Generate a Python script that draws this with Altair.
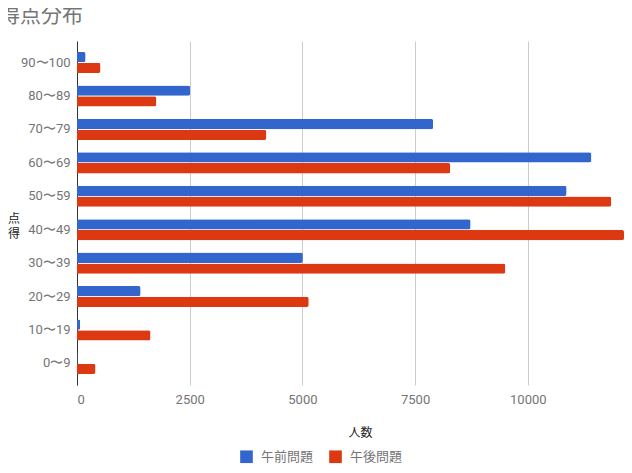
import altair as alt
import pandas as pd

categories = ["90〜100", "80〜89", "70〜79", "60〜69", "50〜59",
              "40〜49", "30〜39", "20〜29", "10〜19", "0〜9"]
series = ["午前問題", "午後問題"]
morning = [190, 2510, 7900, 11410, 10860, 8730, 5010, 1410, 70, 15]
afternoon = [520, 1760, 4200, 8280, 11850, 12500, 9500, 5140, 1630, 410]
x_ticks = [0, 2500, 5000, 7500, 10000]
colors = ["#3366cc", "#dc3912"]

rows = []
for c, m, a in zip(categories, morning, afternoon):
    rows.append({"score": c, "series": series[0], "count": m})
    rows.append({"score": c, "series": series[1], "count": a})
df = pd.DataFrame(rows)

W, H = 547, 344
x_max = W / 0.04508

chart = alt.Chart(df).mark_bar(cornerRadiusEnd=2).encode(
    x=alt.X("count:Q",
            scale=alt.Scale(domain=[0, x_max], nice=False, zero=True, clamp=True),
            axis=alt.Axis(values=x_ticks, format="d", title="人数", grid=True, gridColor="#cccccc",
                          domain=False, ticks=False, labelColor="#757575",
                          labelFontSize=13, labelPadding=8, labelFont="Roboto",
                          titleColor="#222222", titleFontSize=12, titleFontWeight="normal",
                          titleFont="Noto Sans CJK JP", titleBaseline="top",
                          titleY=42, titleX=283, titleAlign="center")),
    y=alt.Y("score:N", sort=categories,
            scale=alt.Scale(paddingInner=0.37, paddingOuter=0.33),
            axis=alt.Axis(title=["点", "得"], titleAngle=0, titleX=-63.5, titleY=172,
                          titleBaseline="top", titleAlign="center", titleLineHeight=15,
                          titleColor="#222222", titleFontSize=12, titleFontWeight="normal",
                          titleFont="Noto Sans CJK JP",
                          domainColor="#333333", ticks=False, labelColor="#757575",
                          labelFontSize=13, labelPadding=7, labelFont="Roboto", grid=False)),
    yOffset=alt.YOffset("series:N", sort=series, scale=alt.Scale(paddingInner=0.05)),
    color=alt.Color("series:N", sort=series,
                    scale=alt.Scale(domain=series, range=colors),
                    legend=alt.Legend(title=None, orient="none", legendX=163, legendY=409,
                                      direction="horizontal", symbolType="square",
                                      symbolSize=160, symbolStrokeWidth=0,
                                      labelColor="#757575", labelFontSize=13,
                                      labelFont="Noto Sans CJK JP",
                                      labelOffset=8, columnPadding=15)),
).properties(
    width=W, height=H,
    title=alt.TitleParams(text="得点分布", anchor="start", frame="group", dx=-78, dy=-11,
                          fontSize=21, color="#757575", fontWeight="normal",
                          font="Noto Sans CJK JP"),
    autosize=alt.AutoSizeParams(type="none"),
    padding={"left": 69, "top": 33, "right": 0, "bottom": 80},
).configure_view(stroke=None)

chart.save("out.html", embed_options={"renderer": "svg", "actions": False})
